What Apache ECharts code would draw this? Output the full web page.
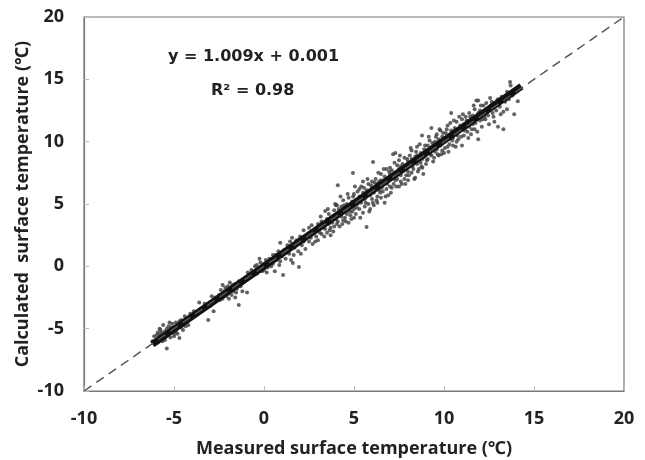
<!DOCTYPE html>
<html><head><meta charset="utf-8">
<script src="https://cdn.jsdelivr.net/npm/echarts@6/dist/echarts.min.js"></script>
<style>html,body{margin:0;padding:0;background:#fff}#c{width:645px;height:460px}</style>
</head><body><div id="c"></div>
<script>
var xTicks = [-10, -5, 0, 5, 10, 15, 20];
var yTicks = [-10, -5, 0, 5, 10, 15, 20];
var equationText = 'y = 1.009x + 0.001';
var r2Text = 'R\u00b2 = 0.98';
var identityLine = [[-10, -10], [20, 20]];
var fitLine = [[-6.2, -6.25], [14.3, 14.43]];

var pointsCold = [[-6.1,-5.6],[-6.0,-5.9],[-5.9,-5.3],[-5.9,-6.1],[-5.8,-5.5],[-5.8,-5.0],[-5.7,-5.8],[-5.7,-5.3],[-5.6,-4.7],[-5.6,-5.6],[-5.5,-5.2],[-5.5,-5.9],[-5.4,-6.6],[-5.4,-5.0],[-5.3,-5.4],[-5.3,-4.8],[-5.2,-5.7],[-5.2,-5.1],[-5.1,-4.6],[-5.1,-5.3],[-5.0,-5.0],[-5.0,-5.6],[-4.9,-4.5],[-4.9,-5.2],[-4.8,-4.8],[-4.8,-5.4],[-4.7,-5.75],[-4.7,-4.4],[-4.6,-4.9],[-4.6,-4.3],[-4.5,-4.7],[-4.5,-5.1],[-4.4,-4.0],[-4.4,-4.5],[-4.3,-4.2],[-4.2,-4.7],[-4.1,-3.8],[-4.0,-4.1],[-6.2,-6.0],[-5.95,-5.5],
[-3.9,-3.6],[-3.7,-3.7],[-3.6,-2.9],[-3.5,-3.4],[-3.3,-3.0],[-3.1,-4.3],[-3.0,-3.2],[-2.9,-2.4],[-2.8,-3.6],[-2.7,-2.5],
[-2.5,-2.3],[-2.4,-1.9],[-2.3,-1.5],[-2.3,-2.6],[-2.2,-2.0],[-2.1,-2.4],[-2.0,-1.6],[-2.0,-2.2],[-1.9,-1.3],[-1.9,-1.9],[-1.8,-2.3],[-1.8,-1.7],[-1.7,-2.0],[-1.6,-1.4],[-1.6,-2.5],[-1.5,-1.8],[-1.4,-3.1],[-1.4,-1.2],[-1.3,-1.6],[-1.2,-2.0],[-1.1,-1.1],[-0.94,-2.1],[-0.9,-0.5]];

var pointsMild = [[-0.8,-0.9],[-0.7,-0.3],[-0.6,-0.7],[-0.5,0.0],[-0.4,0.1],[-0.4,-0.6],[-0.3,-0.2],[-0.2,0.3],[-0.1,-0.4],[0.0,0.2],[0.0,-0.3],[0.1,0.5],[0.2,-0.1],[0.3,0.6],[0.4,0.0],[0.5,0.9],[0.5,0.2],[0.6,-0.4],[0.7,0.5],[0.8,1.2],[0.9,1.9],[0.9,0.4],[1.0,0.8],[1.06,-0.7],[1.1,1.3],[1.2,0.6],[1.3,1.7],[1.4,1.0],[1.5,0.5],[1.56,2.3],[1.6,0.26],[1.7,1.5],[1.8,2.1],[1.9,1.2],[1.94,-0.06],[2.0,2.4],[2.1,1.7],[2.2,2.0],[2.2,2.9],[2.3,1.4],[2.4,2.5],[2.5,2.0],[2.5,3.1],[2.6,2.3],[2.7,1.8],[2.8,2.9],[2.9,2.4],[3.0,3.4],[3.0,2.1],[3.1,2.7],
[3.2,3.6],[3.2,2.6],[3.3,3.1],[3.4,4.43],[3.4,3.0],[3.5,3.8],[3.5,2.7],[3.6,3.4],[3.6,4.2],[3.7,3.1],[3.7,2.5],[3.8,4.0],[3.8,3.5],[3.9,4.5],[3.9,3.2],[4.0,3.8],[4.0,4.9],[4.05,4.9],[4.1,6.5],[4.1,3.6],[4.2,4.3],[4.2,3.2],[4.3,4.8],[4.3,4.0],[4.4,3.7],[4.4,5.3],[4.5,4.5],[4.5,3.9],[4.6,5.0],[4.6,4.2],[4.7,3.5],[4.7,5.5],[4.8,4.7],[4.8,4.1],[4.9,5.2],[4.94,7.48],[4.9,4.4],[5.0,5.8],[5.0,4.6],[5.0,3.9]];

var pointsWarm = [[5.1,5.3],[5.1,4.2],[5.2,6.0],[5.2,5.0],[5.3,4.6],[5.3,5.6],[5.4,6.4],[5.4,5.1],[5.5,4.3],[5.5,5.9],[5.5,6.8],[5.6,5.4],[5.6,4.8],[5.7,3.15],[5.7,6.1],[5.7,5.6],[5.8,5.0],[5.8,6.6],[5.9,5.7],[5.9,4.6],[6.0,6.3],[6.0,5.4],[6.06,8.36],[6.1,5.9],[6.1,4.9],[6.2,7.0],[6.2,6.4],[6.3,5.6],[6.3,5.1],[6.4,6.8],[6.4,6.1],[6.5,7.4],[6.5,5.5],[6.6,6.5],[6.6,6.0],[6.7,5.1],[6.7,7.2],[6.7,6.7],[6.8,6.2],[6.8,7.8],[6.9,6.9],[6.9,5.7],[7.0,7.4],[7.0,6.4],[7.0,7.0],[6.0,6.8],[5.3,6.2],[6.5,6.9],[5.9,6.0],[6.3,6.6],
[7.1,7.7],[7.1,6.3],[7.17,9.0],[7.2,7.1],[7.2,6.6],[7.3,9.1],[7.3,7.5],[7.3,6.9],[7.4,8.1],[7.4,7.0],[7.5,6.4],[7.5,7.8],[7.5,8.5],[7.6,7.3],[7.6,6.8],[7.7,8.2],[7.7,7.6],[7.8,7.0],[7.8,8.7],[7.9,7.9],[7.9,7.3],[8.0,8.4],[8.0,7.6],[8.0,6.9],[8.1,8.9],[8.1,8.1],[8.2,7.5],[8.2,9.3],[8.3,8.4],[8.3,7.8],[8.4,7.1],[8.4,8.8],[8.5,8.2],[8.5,9.6],[8.6,8.5],[8.6,7.8],[8.7,9.1],[8.7,8.3],[8.78,10.5],[8.8,8.6],[8.8,7.9],[8.9,9.4],[8.9,8.8],[9.0,9.0],[9.0,8.2],[7.6,8.0],[8.2,8.6],[7.0,7.9],[8.5,8.9]];

var pointsHot = [[9.1,9.7],[9.1,8.6],[9.2,9.2],[9.2,10.1],[9.3,11.1],[9.3,8.9],[9.4,9.5],[9.4,8.4],[9.5,10.0],[9.5,9.2],[9.6,10.6],[9.6,9.4],[9.7,8.9],[9.7,10.2],[9.8,9.7],[9.8,10.9],[9.9,9.3],[9.9,10.4],[10.0,10.0],[10.0,9.1],[10.1,10.7],[10.1,10.2],[10.2,9.6],[10.2,11.3],[10.3,10.4],[10.3,9.8],[10.4,12.3],[10.4,10.9],[10.5,10.3],[10.5,9.7],[10.6,11.1],[10.6,10.6],[10.7,10.0],[10.7,11.6],[10.8,10.8],[10.8,10.2],[10.9,11.3],[11.0,9.7],[11.0,11.0],[11.0,11.8],
[11.1,10.5],[11.1,11.4],[11.2,12.0],[11.2,11.1],[11.3,10.8],[11.3,11.6],[11.4,12.3],[11.4,11.2],[11.5,10.6],[11.5,11.8],[11.6,12.1],[11.6,11.4],[11.7,12.6],[11.7,11.0],[11.8,13.3],[11.8,11.9],[11.9,10.2],[11.9,12.3],[11.9,13.3],[12.0,11.7],[12.0,12.5],[12.1,11.2],[12.2,12.3],[12.2,12.9],[12.3,11.8],[12.4,12.6],[12.5,11.4],[12.56,13.5],
[12.6,12.9],[12.7,12.3],[12.8,13.1],[12.8,11.6],[12.9,12.5],[13.0,13.4],[13.0,11.2],[13.1,12.8],[13.2,13.6],[13.3,11.0],[13.3,12.4],[13.4,13.2],[13.5,12.6],[13.5,14.0],[13.6,13.4],[13.67,14.78],[13.7,14.5],[13.8,13.7],[14.1,13.25],[14.0,14.1],[13.9,12.2]];

var pointsExtra = [[-5.75,-5.1],[-5.45,-5.5],[-5.15,-4.9],[-4.95,-5.4],[-4.65,-4.6],[-4.35,-4.8],[-5.65,-6.0],[-5.25,-4.5],
[-2.15,-1.7],[-1.95,-2.6],[-1.75,-1.5],[-1.55,-2.1],[-2.45,-2.7],
[-0.25,0.6],[0.15,-0.5],[0.35,0.3],[0.65,0.9],[0.85,0.1],[1.25,1.1],[1.45,2.0],[1.65,0.9],[2.05,1.0],[2.35,2.3],[2.65,3.3],[2.85,2.0],[3.05,3.0],
[3.15,4.0],[3.35,2.4],[3.45,3.5],[3.55,4.6],[3.65,2.9],[3.75,3.8],[3.85,2.8],[3.95,5.0],[4.05,3.4],[4.15,4.6],[4.25,5.6],[4.35,3.4],[4.45,4.9],[4.55,3.6],[4.65,5.8],[4.75,4.4],[4.85,3.8],[4.95,5.6],
[5.05,6.4],[5.15,4.7],[5.25,5.4],[5.35,3.9],[5.45,5.6],[5.55,6.3],[5.65,5.1],[5.75,7.0],[5.85,4.4],[5.95,6.5],[6.05,5.1],[6.15,6.7],[6.25,5.3],[6.35,7.5],[6.45,5.9],[6.55,6.3],[6.65,7.8],[6.75,5.6],[6.85,6.6],[6.95,7.6],
[7.05,5.9],[7.15,7.3],[7.25,8.3],[7.35,6.4],[7.45,7.4],[7.55,8.9],[7.65,6.6],[7.75,7.9],[7.85,6.6],[7.95,8.6],[8.05,7.3],[8.15,9.5],[8.25,8.0],[8.35,7.0],[8.45,9.2],[8.55,7.6],[8.65,9.8],[8.75,8.0],[8.85,7.4],[8.95,9.7],
[9.05,8.5],[9.15,10.4],[9.25,9.0],[9.35,9.9],[9.45,8.7],[9.55,10.4],[9.65,9.0],[9.75,11.0],[9.85,9.0],[9.95,10.7],[10.05,9.5],[10.15,11.0],[10.25,9.2],[10.35,11.5],[10.45,10.1],[10.55,11.7],[10.65,9.6],[10.75,10.5],[10.85,12.0],[10.95,10.4],
[11.05,12.2],[11.15,10.9],[11.25,11.7],[11.35,10.3],[11.45,12.0],[11.55,11.0],[11.65,12.9],[11.75,11.5],[11.85,10.8],[11.95,12.0],[12.05,12.9],[12.15,11.8],[12.25,12.0],[12.35,13.1],[12.45,12.1],[12.65,13.2],[12.75,12.0],[12.95,13.3],[13.15,12.2],[13.45,13.6]];

var allPoints = pointsCold.concat(pointsMild, pointsWarm, pointsHot, pointsExtra);

var chart = echarts.init(document.getElementById('c'), null, {renderer: 'canvas'});
var font = '"Open Sans", "Noto Sans", sans-serif';
var tickFmt = function (v) { return String(v); };
function axisCfg(name, gap, ticks) {
  return {
    type: 'value', min: ticks[0], max: ticks[ticks.length - 1], interval: 5,
    name: name, nameLocation: 'middle', nameGap: gap,
    nameTextStyle: {fontFamily: font, fontSize: 18, fontWeight: 'bold', color: '#222'},
    axisLine: {show: true, onZero: false, lineStyle: {color: '#777', width: 1.2}},
    axisTick: {show: true, inside: true, length: 5, lineStyle: {color: '#bbb'}},
    axisLabel: {fontFamily: font, fontSize: 18, fontWeight: 'bold', color: '#222', formatter: tickFmt},
    splitLine: {show: false}
  };
}
var xa = axisCfg('Measured surface temperature (\u2103)', 49, xTicks);
xa.axisLabel.margin = 19;
var ya = axisCfg('Calculated  surface temperature (\u2103)', 52, yTicks);
ya.nameMoveOverlap = false;
ya.axisLabel.margin = 20;

chart.setOption({
  animation: false,
  backgroundColor: '#fff',
  grid: {left: 84, top: 17, right: 21, bottom: 69, containLabel: false, outerBoundsMode: 'none',
    show: true, borderColor: '#777', borderWidth: 1.2, backgroundColor: 'transparent'},
  xAxis: xa,
  yAxis: ya,
  graphic: [
    {type: 'text', left: 168, top: 49, style: {text: equationText, font: 'bold 16px "DejaVu Sans", sans-serif', fill: '#222'}},
    {type: 'text', left: 211, top: 83, style: {text: r2Text, font: 'bold 16px "DejaVu Sans", sans-serif', fill: '#222'}}
  ],
  series: [
    {type: 'scatter', data: allPoints, symbol: 'circle', symbolSize: 4,
      itemStyle: {color: '#3c3c3c'}, z: 2, silent: true},
    {type: 'line', data: fitLine, symbol: 'none', lineStyle: {color: '#111', width: 7}, z: 3, silent: true},
    {type: 'line', data: identityLine, symbol: 'none', lineStyle: {color: '#555', width: 1.5, type: [9, 6]}, z: 4, silent: true}
  ]
});
</script></body></html>
